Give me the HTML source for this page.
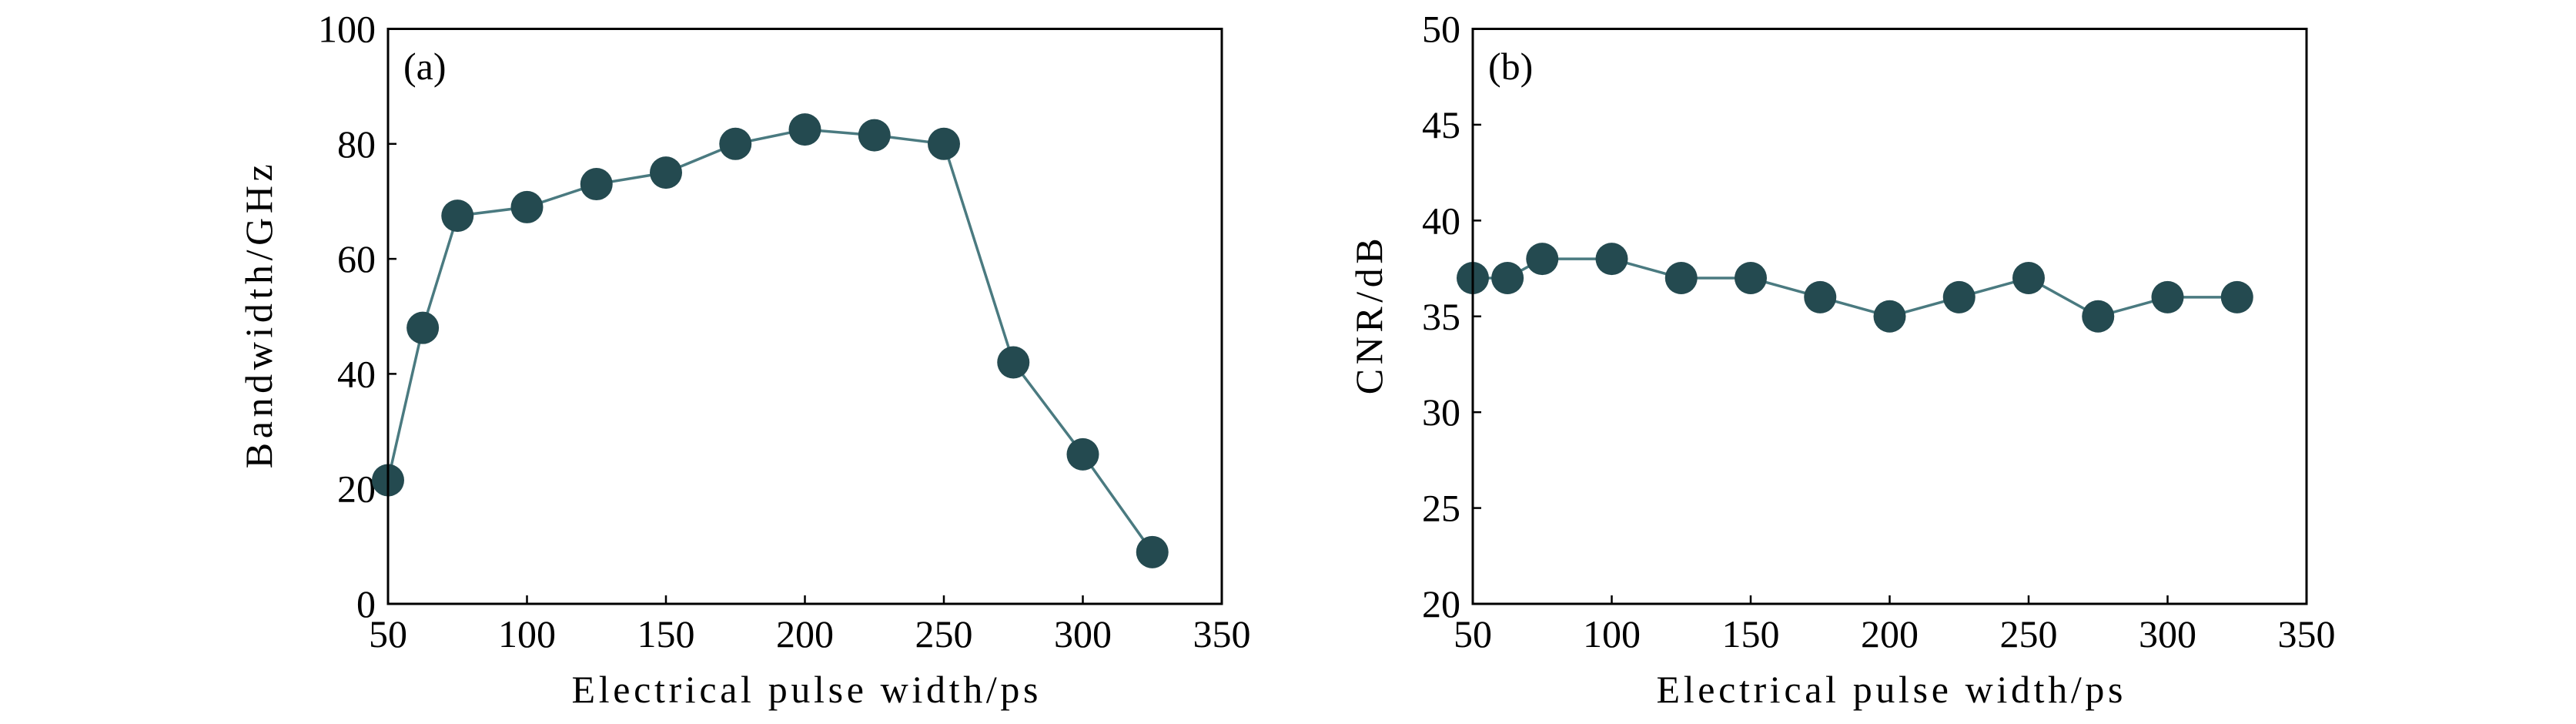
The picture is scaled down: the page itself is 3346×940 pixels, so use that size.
<!DOCTYPE html>
<html><head><meta charset="utf-8"><style>
body{margin:0;background:#fff;}
svg text{font-family:"Liberation Serif",serif;fill:#000;}
</style></head><body>
<svg id="chart" width="3346" height="935" viewBox="0 0 3346 935" xmlns="http://www.w3.org/2000/svg"></svg>
<script>
const xValues = [50, 62.5, 75, 100, 125, 150, 175, 200, 225, 250, 275, 300, 325];
const bandwidthValues = [21.5, 48, 67.5, 69, 73, 75, 80, 82.5, 81.5, 80, 42, 26, 9];
const cnrValues = [37, 37, 38, 38, 37, 37, 36, 35, 36, 37, 35, 36, 36];
const xTicks = [50, 100, 150, 200, 250, 300, 350];
const yTicksA = [0, 20, 40, 60, 80, 100];
const yTicksB = [20, 25, 30, 35, 40, 45, 50];

const NS = "http://www.w3.org/2000/svg";
const svg = document.getElementById('chart');
function mk(tag, attrs, parent){
  const e = document.createElementNS(NS, tag);
  for (const k in attrs) e.setAttribute(k, attrs[k]);
  (parent||svg).appendChild(e);
  return e;
}
function panel(opts){
  const g = mk('g', {});
  
  
  const L = opts.left, R = opts.left + 1083, T = 37.5, B = 784;
  const sx = v => L + (v - 50) / 300 * (R - L);
  const sy = v => B - (v - opts.ymin) / (opts.ymax - opts.ymin) * (B - T);
  xTicks.forEach(t => {
    const x = sx(t);
    const l = mk('line', {x1:x, x2:x, y1:B, y2:B-11, stroke:'#000','stroke-width':2.5}, g);
    
    
    const tx = mk('text', {x:x, y:840, 'font-size':50, 'text-anchor':'middle'}, g);
    tx.textContent = t;
    
    
  });
  opts.yTicks.forEach(t => {
    const y = sy(t);
    const l = mk('line', {x1:L, x2:L+11, y1:y, y2:y, stroke:'#000','stroke-width':2.5}, g);
    
    
    const tx = mk('text', {x:L-16, y:y+17, 'font-size':50, 'text-anchor':'end'}, g);
    tx.textContent = t;
    
    
  });
  const pts = xValues.map((x, i) => sx(x) + ',' + sy(opts.data[i])).join(' ');
  const pl = mk('polyline', {points:pts, fill:'none', stroke:'#4a7a80', 'stroke-width':3.5}, g);
  
  
  xValues.forEach((x, i) => {
    const c = mk('ellipse', {cx:sx(x), cy:sy(opts.data[i]), rx:21, ry:21, fill:'#244a50'}, g);
    
    
  });
  const fr = mk('rect', {x:L, y:T, width:R-L, height:B-T, fill:'none', stroke:'#000', 'stroke-width':3}, g);
  
  
  const lab = mk('text', {x:L+20, y:103, 'font-size':50}, g);
  lab.textContent = opts.label;
  
  
  const xt = mk('text', {x:(L+R)/2, y:912, 'font-size':50, 'text-anchor':'middle', textLength:606, lengthAdjust:'spacing'}, g);
  xt.textContent = 'Electrical pulse width/ps';
  
  
  const yt = mk('text', {x:0, y:0, 'font-size':50, 'text-anchor':'middle', textLength:opts.ylen, lengthAdjust:'spacing', transform:'translate('+opts.ytx+','+((T+B)/2)+') rotate(-90)'}, g);
  yt.textContent = opts.ytitle;
  
  
}
panel({name:'bandwidth-panel', left:504, ymin:0, ymax:100, yTicks:yTicksA, data:bandwidthValues, label:'(a)', ytitle:'Bandwidth/GHz', ytx:353, ylen:395});
panel({name:'cnr-panel', left:1913, ymin:20, ymax:50, yTicks:yTicksB, data:cnrValues, label:'(b)', ytitle:'CNR/dB', ytx:1795, ylen:203});
</script>
</body></html>
